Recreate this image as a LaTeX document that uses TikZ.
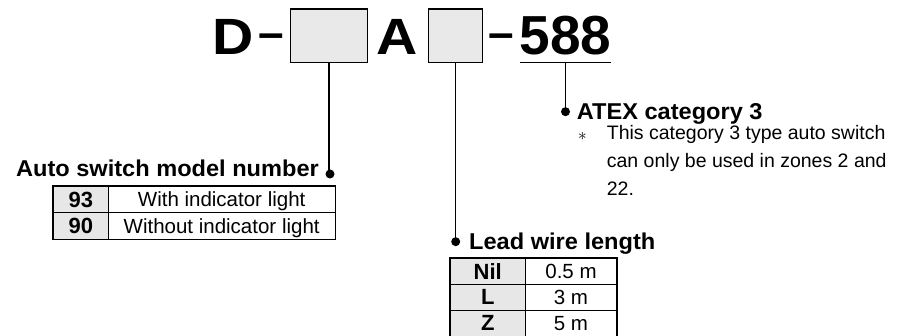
\documentclass[tikz,border=0pt]{standalone}
\usepackage{fontspec}
\setmainfont{Liberation Sans}
\newfontfamily\widefont{Liberation Sans}[FakeStretch=1.12]
\newfontfamily\midfont{Liberation Sans}[FakeStretch=1.03]
\definecolor{slotgray}{HTML}{E8E9E8}
\definecolor{cellgray}{HTML}{E6E7E6}
\begin{document}
\begin{tikzpicture}[x=1pt,y=-1pt,
  code/.style={font=\widefont\bfseries\fontsize{51}{51}\selectfont, inner sep=0pt, anchor=base},
  bigcode/.style={font=\bfseries\fontsize{55}{55}\selectfont, inner sep=0pt, anchor=base},
  dashtxt/.style={font=\bfseries\fontsize{46}{46}\selectfont, inner sep=0pt, anchor=base},
  slot/.style={draw, fill=slotgray, line width=1.3pt, inner sep=0pt},
  lead/.style={line width=1.2pt},
  dotmark/.style={circle, fill=black, inner sep=0pt, minimum size=9pt},
  head/.style={font=\midfont\bfseries\fontsize{22.9}{23}\selectfont, inner sep=0pt},
  notetxt/.style={font=\fontsize{19.5}{27.5}\selectfont, inner sep=0pt, anchor=base west},
  cellk/.style={draw, line width=0.8pt, fill=cellgray, inner sep=0pt, text height=15.5pt, text depth=0pt, font=\bfseries\fontsize{22}{22}\selectfont},
  cellv/.style={draw, line width=0.8pt, fill=white, inner sep=0pt, text height=14.5pt, text depth=0pt, font=\fontsize{20.5}{20.5}\selectfont},
  frame/.style={draw, line width=1.2pt}
]
\useasboundingbox (0,0) rectangle (898,336);

% model code
\node[code] (D) at (233.3,55) {D};
\node[dashtxt] (dashA) at (271,48.5) {–};
\node[slot, minimum width=76.6pt, minimum height=53.7pt] (box1) at (329,35.9) {};
\node[code] (A) at (397.5,55) {A};
\node[slot, minimum width=54pt, minimum height=53.7pt] (box2) at (455.7,35.9) {};
\node[dashtxt] (dashB) at (501,48.5) {–};
\node[bigcode] (num) at (565.3,55) {588};
\coordinate (ulL) at (520,62.3);
\coordinate (ulR) at (610.7,62.3);
\coordinate (ulM) at (565.5,62.3);
\draw[lead] (ulL) -- (ulR);

% dots
\node[dotmark] (dotA) at (330,174) {};
\node[dotmark] (dotB) at (455.7,241.7) {};
\node[dotmark] (dotC) at (565.5,111.7) {};

% connectors
\draw[lead] (box1.south) -- (box1.south |- dotA.center);
\draw[lead] (box2.south) -- (dotB.center);
\draw[lead] (ulM) -- (dotC.center);

% headings
\node[head, anchor=base east] (hA) at (319,176.7) {Auto switch model number};
\node[head, anchor=base west] (hC) at (576.7,119.3) {ATEX category 3};
\node[head, anchor=base west] (hB) at (469,250) {Lead wire length};

% note
\node[inner sep=0pt, anchor=base, font=\fontsize{16}{16}\selectfont] (ast) at (582.5,140.5) {$\ast$};
\node[notetxt] (n1) at (606.7,140) {This category 3 type auto switch};
\node[notetxt] (n2) at (606.7,167.7) {can only be used in zones 2 and};
\node[notetxt] (n3) at (606.7,195.2) {22.};

% table 1
\node[cellk, minimum width=55pt, minimum height=26.7pt] (t1a) at (80.8,199.35) {93};
\node[cellv, minimum width=226.7pt, minimum height=26.7pt] (t1b) at (221.65,199.35) {With indicator light};
\node[cellk, minimum width=55pt, minimum height=26.6pt] (t1c) at (80.8,226) {90};
\node[cellv, minimum width=226.7pt, minimum height=26.6pt] (t1d) at (221.65,226) {Without indicator light};
\draw[frame] (t1a.north west) rectangle (t1d.south east);

% table 2
\node[cellk, minimum width=75.5pt, minimum height=26pt] (t2a) at (487.75,271.3) {Nil};
\node[cellv, minimum width=91pt, minimum height=26pt] (t2b) at (571,271.3) {0.5 m};
\node[cellk, minimum width=75.5pt, minimum height=25.7pt] (t2c) at (487.75,297.15) {L};
\node[cellv, minimum width=91pt, minimum height=25.7pt] (t2d) at (571,297.15) {3 m};
\node[cellk, minimum width=75.5pt, minimum height=26pt] (t2e) at (487.75,323) {Z};
\node[cellv, minimum width=91pt, minimum height=26pt] (t2f) at (571,323) {5 m};
\draw[frame] (t2a.north west) rectangle (t2f.south east);
\end{tikzpicture}
\end{document}
